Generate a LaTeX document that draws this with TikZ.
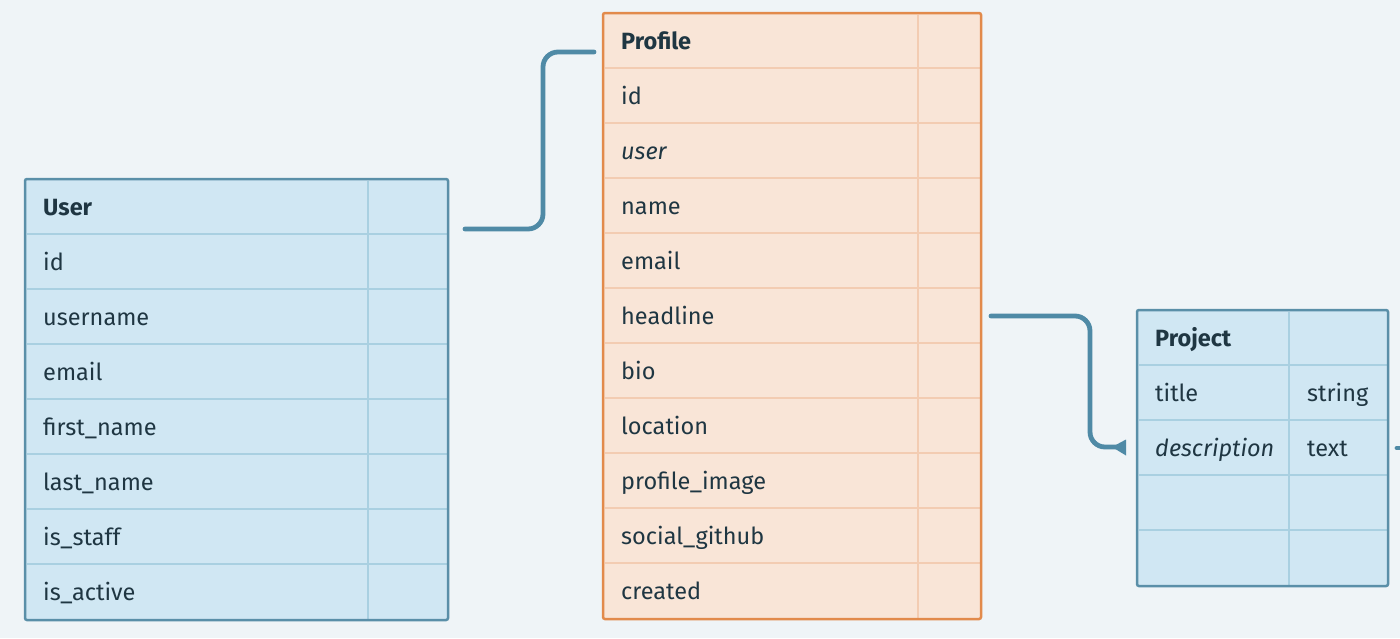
\documentclass[tikz,border=0pt]{standalone}
\usepackage{fontspec}
\setmainfont{Fira Sans}
\definecolor{bg}{HTML}{EFF4F7}
\definecolor{bfill}{HTML}{D0E7F3}
\definecolor{bbd}{HTML}{5A8FA8}
\definecolor{bin}{HTML}{A9D0E1}
\definecolor{ofill}{HTML}{F9E5D7}
\definecolor{obd}{HTML}{E28A4B}
\definecolor{oin}{HTML}{F3CCB2}
\definecolor{txt}{HTML}{1F3642}
\definecolor{conncol}{HTML}{4F8AA6}
\begin{document}
\begin{tikzpicture}[x=1pt,y=-1pt,
  fld/.style={anchor=base west,inner sep=0pt,text=txt,font=\fontsize{23.5}{26}\selectfont},
  tblbox/.style={anchor=north west,inner sep=0pt,outer sep=0pt,rounded corners=2pt},
  conn/.style={draw=conncol,line width=4.8pt,line cap=round,rounded corners=15pt}]
\useasboundingbox[fill=bg] (0,0) rectangle (1400,638);
% ---------- User ----------
\node[tblbox,fill=bfill,minimum width=423pt,minimum height=441pt] (user) at (25,179) {};
\foreach \i in {1,...,7} \draw[bin,line width=1.8pt] (26.5,179+55*\i) -- (446.5,179+55*\i);
\draw[bin,line width=1.8pt] (368,180.5) -- (368,618.5);
\draw[bbd,line width=2.5pt,rounded corners=2pt] (user.north west) rectangle (user.south east);
\node[fld] (u0) at (43,215.5) {\textbf{User}};
\node[fld] (u1) at (43,270.5) {id};
\node[fld] (u2) at (43,325.5) {username};
\node[fld] (u3) at (43,380.5) {email};
\node[fld] (u4) at (43,435.5) {first\_name};
\node[fld] (u5) at (43,490.5) {last\_name};
\node[fld] (u6) at (43,545.5) {is\_staff};
\node[fld] (u7) at (43,600.5) {is\_active};
% ---------- Profile ----------
\node[tblbox,fill=ofill,minimum width=378pt,minimum height=606pt] (prof) at (603,13) {};
\foreach \i in {1,...,10} \draw[oin,line width=1.8pt] (604.5,13+55*\i) -- (979.5,13+55*\i);
\draw[oin,line width=1.8pt] (918,14.5) -- (918,617.5);
\draw[obd,line width=2.5pt,rounded corners=2pt] (prof.north west) rectangle (prof.south east);
\node[fld] (p0) at (621,49.5) {\textbf{Profile}};
\node[fld] (p1) at (621,104.5) {id};
\node[fld] (p2) at (621,159.5) {\itshape user};
\node[fld] (p3) at (621,214.5) {name};
\node[fld] (p4) at (621,269.5) {email};
\node[fld] (p5) at (621,324.5) {headline};
\node[fld] (p6) at (621,379.5) {bio};
\node[fld] (p7) at (621,434.5) {location};
\node[fld] (p8) at (621,489.5) {profile\_image};
\node[fld] (p9) at (621,544.5) {social\_github};
\node[fld] (p10) at (621,599.5) {created};
% ---------- Project ----------
\node[tblbox,fill=bfill,minimum width=251pt,minimum height=276pt] (proj) at (1137,310) {};
\foreach \i in {1,...,4} \draw[bin,line width=1.8pt] (1138.5,310+55*\i) -- (1386.5,310+55*\i);
\draw[bin,line width=1.8pt] (1289,311.5) -- (1289,584.5);
\draw[bbd,line width=2.5pt,rounded corners=2pt] (proj.north west) rectangle (proj.south east);
\node[fld] (j0) at (1155,346.5) {\textbf{Project}};
\node[fld] (j1) at (1155,401.5) {title};
\node[fld] (j1t) at (1307,401.5) {string};
\node[fld] (j2) at (1155,456.5) {\itshape description};
\node[fld] (j2t) at (1307,456.5) {text};
% ---------- connectors ----------
\coordinate (c1s) at (465,229);
\coordinate (c1e) at (594,52);
\draw[conn] (c1s) -- ++(78,0) |- (c1e);
\coordinate (c2s) at (991,316);
\coordinate (c2e) at (1116,447);
\draw[conn] (c2s) -- ++(99,0) |- (c2e);
\fill[conncol] (1112,447) -- (1126,439.5) -- (1126,455.5) -- cycle;
\coordinate (c3s) at (1397,448);
\coordinate (c3e) at (1402,448);
\draw[conn] (c3s) -- (c3e);
\end{tikzpicture}
\end{document}
